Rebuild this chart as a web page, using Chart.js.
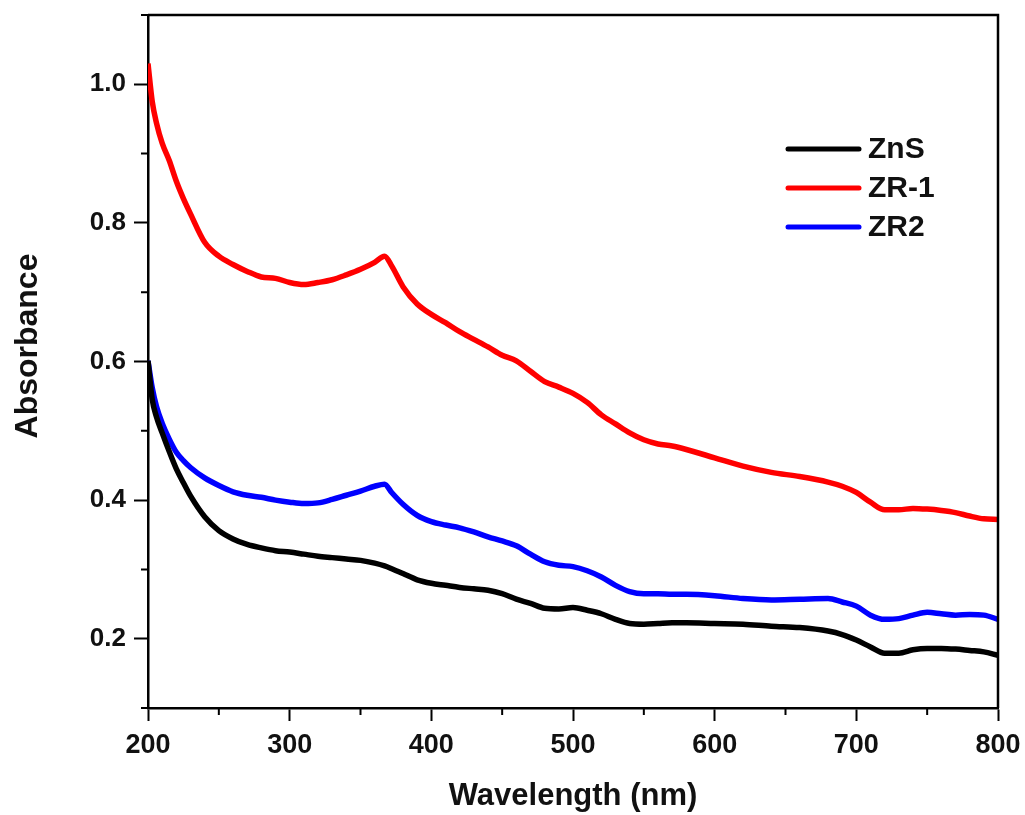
<!DOCTYPE html>
<html>
<head>
<meta charset="utf-8">
<script src="https://cdn.jsdelivr.net/npm/chart.js@4"></script>
<style>
    html, body { margin: 0; padding: 0; background: #ffffff; }
    #wrap { width: 1025px; height: 815px; }
</style>
</head>
<body>
<div id="wrap"><canvas id="Chart1" width="1025" height="815"></canvas></div>
<script>
// wavelength grid (nm) shared by the three spectra
const wavelength = [
    200, 203, 206, 210, 215, 220, 225, 230, 240, 250, 260, 270, 280, 290, 300,
    310, 320, 330, 340, 350, 360, 367, 372, 380, 390, 400, 410, 420, 430, 440,
    450, 460, 470, 480, 490, 500, 510, 520, 530, 540, 550, 560, 570, 580, 600,
    620, 640, 660, 680, 690, 700, 710, 720, 730, 740, 750, 760, 770, 780, 790, 800,
];

const znsAbs = [
    0.601, 0.545, 0.52, 0.497, 0.47, 0.445, 0.425, 0.406, 0.376, 0.356, 0.344, 0.336, 0.331, 0.327, 0.325,
    0.322, 0.319, 0.317, 0.315, 0.313, 0.309, 0.305, 0.301, 0.294, 0.285, 0.28, 0.277, 0.274, 0.272, 0.27,
    0.265, 0.257, 0.251, 0.244, 0.243, 0.245, 0.241, 0.236, 0.228, 0.222, 0.221, 0.222, 0.223, 0.223, 0.222,
    0.221, 0.218, 0.216, 0.211, 0.206, 0.198, 0.188, 0.179, 0.179, 0.184, 0.186, 0.186, 0.185, 0.183, 0.181, 0.176,
];

const zr1Abs = [
    1.03, 0.975, 0.944, 0.915, 0.89, 0.86, 0.835, 0.813, 0.772, 0.752, 0.74, 0.73, 0.722, 0.72, 0.714,
    0.711, 0.714, 0.718, 0.725, 0.733, 0.743, 0.752, 0.738, 0.708, 0.683, 0.668, 0.656, 0.643, 0.632, 0.621,
    0.609, 0.601, 0.586, 0.571, 0.563, 0.554, 0.541, 0.523, 0.51, 0.497, 0.487, 0.481, 0.478, 0.473, 0.461,
    0.449, 0.44, 0.434, 0.426, 0.42, 0.411, 0.397, 0.386, 0.386, 0.388, 0.387, 0.385, 0.382, 0.377, 0.373, 0.372,
];

const zr2Abs = [
    0.601, 0.562, 0.535, 0.511, 0.488, 0.469, 0.457, 0.447, 0.432, 0.421, 0.412, 0.407, 0.404, 0.4, 0.397,
    0.395, 0.396, 0.401, 0.407, 0.413, 0.42, 0.423, 0.411, 0.394, 0.378, 0.369, 0.364, 0.36, 0.354, 0.347,
    0.341, 0.334, 0.322, 0.311, 0.306, 0.304, 0.298, 0.289, 0.277, 0.268, 0.265, 0.265, 0.264, 0.264, 0.262,
    0.258, 0.256, 0.257, 0.258, 0.253, 0.247, 0.234, 0.228, 0.229, 0.234, 0.238, 0.236, 0.234, 0.235, 0.234, 0.228,
];

const seriesNames = ["ZnS", "ZR-1", "ZR2"];
const seriesColors = ["#000000", "#ff0000", "#0000ff"];

// labelled ticks; the unlabelled ones in between get short marks
const xMajor = [200, 300, 400, 500, 600, 700, 800];
const xMinor = [250, 350, 450, 550, 650, 750];
const yMajor = [0.2, 0.4, 0.6, 0.8, 1.0];
const yMinor = [0.1, 0.3, 0.5, 0.7, 0.9, 1.1];

const FONT = "'Liberation Sans', Arial, Helvetica, sans-serif";

function toPoints(values) {
    return wavelength.map((w, i) => ({ x: w, y: values[i] }));
}

// top/right frame, minor ticks, y title and the legend inside the plot
const framePlugin = {
    id: "frame",
    afterDraw(chart) {
        const { ctx, chartArea: a, scales } = chart;
        ctx.save();
        ctx.strokeStyle = "#000";
        ctx.lineWidth = 2.5;
        ctx.beginPath();
        ctx.moveTo(a.left, a.top);
        ctx.lineTo(a.right, a.top);
        ctx.lineTo(a.right, a.bottom);
        ctx.stroke();

        ctx.lineWidth = 2;
        ctx.beginPath();
        xMinor.forEach((v) => {
            const px = scales.x.getPixelForValue(v);
            ctx.moveTo(px, a.bottom);
            ctx.lineTo(px, a.bottom + 7);
        });
        yMinor.forEach((v) => {
            const py = scales.y.getPixelForValue(v);
            ctx.moveTo(a.left, py);
            ctx.lineTo(a.left - 7, py);
        });
        ctx.stroke();

        // y axis title
        ctx.fillStyle = "#111";
        ctx.font = "bold 32px " + FONT;
        ctx.textAlign = "center";
        ctx.textBaseline = "middle";
        ctx.translate(28, 346);
        ctx.rotate(-Math.PI / 2);
        ctx.fillText("Absorbance", 0, 0);
        ctx.setTransform(1, 0, 0, 1, 0, 0);

        // legend
        ctx.font = "bold 30px " + FONT;
        ctx.textAlign = "left";
        chart.data.datasets.forEach((ds, i) => {
            const y = 149 + i * 39;
            ctx.strokeStyle = ds.borderColor;
            ctx.lineWidth = 5;
            ctx.lineCap = "round";
            ctx.beginPath();
            ctx.moveTo(788, y);
            ctx.lineTo(859, y);
            ctx.stroke();
            ctx.fillStyle = "#111";
            ctx.fillText(ds.label, 868, y + 1);
        });
        ctx.restore();
    },
};

const ctx1 = document.getElementById("Chart1").getContext("2d");
const chart1 = new Chart(ctx1, {
    type: "line",
    data: {
        datasets: [znsAbs, zr1Abs, zr2Abs].map((vals, i) => ({
            label: seriesNames[i],
            data: toPoints(vals),
            borderColor: seriesColors[i],
            backgroundColor: seriesColors[i],
            borderWidth: 5.5,
            pointRadius: 0,
            cubicInterpolationMode: "monotone",
            fill: false,
        })),
    },
    options: {
        responsive: false,
        animation: false,
        layout: {
            padding: { top: 15, right: 27, left: 0, bottom: 0 },
        },
        plugins: {
            legend: { display: false },
            tooltip: { enabled: false },
        },
        scales: {
            x: {
                type: "linear",
                min: 200,
                max: 800,
                afterFit: (scale) => {
                    scale.height = 107;
                    scale.paddingLeft = 0;
                    scale.paddingRight = 0;
                },
                afterBuildTicks: (scale) => {
                    scale.ticks = xMajor.map((v) => ({ value: v }));
                },
                border: { display: true, color: "#000", width: 2.5 },
                grid: {
                    drawOnChartArea: false,
                    drawTicks: true,
                    tickLength: 13,
                    tickWidth: 2,
                    tickColor: "#000",
                },
                ticks: {
                    color: "#111",
                    padding: 8,
                    font: { family: FONT, size: 27, weight: "bold" },
                    maxRotation: 0,
                },
                title: {
                    display: true,
                    text: "Wavelength (nm)",
                    color: "#111",
                    font: { family: FONT, size: 31, weight: "bold" },
                    padding: { top: 12, bottom: 0 },
                },
            },
            y: {
                type: "linear",
                min: 0.1,
                max: 1.1,
                afterFit: (scale) => {
                    scale.width = 148;
                    scale.paddingTop = 0;
                    scale.paddingBottom = 0;
                },
                afterBuildTicks: (scale) => {
                    scale.ticks = yMajor.map((v) => ({ value: v }));
                },
                border: { display: true, color: "#000", width: 2.5 },
                grid: {
                    drawOnChartArea: false,
                    drawTicks: true,
                    tickLength: 14,
                    tickWidth: 2,
                    tickColor: "#000",
                },
                ticks: {
                    color: "#111",
                    padding: 8,
                    font: { family: FONT, size: 26, weight: "bold" },
                    callback: (v) => v.toFixed(1),
                },
            },
        },
    },
    plugins: [framePlugin],
});
</script>
</body>
</html>
